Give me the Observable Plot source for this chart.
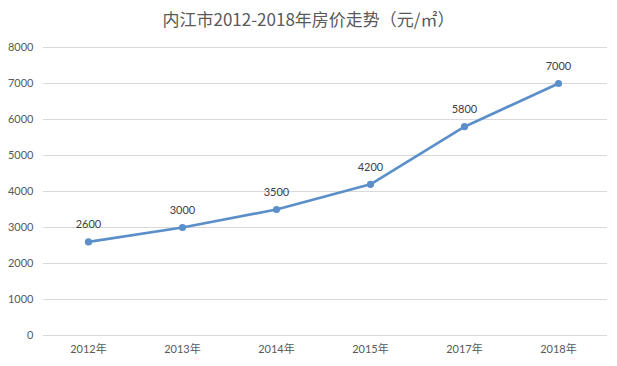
<!DOCTYPE html>
<html><head><meta charset="utf-8">
<script src="https://cdn.jsdelivr.net/npm/d3@7"></script>
<script src="https://cdn.jsdelivr.net/npm/@observablehq/plot@0.6"></script>
<style>
body{margin:0;background:#fff;}
#title{width:617px;height:35px;line-height:37px;text-align:center;font-family:"Noto Sans CJK SC",sans-serif;font-size:17px;color:#595959;}
</style>
</head><body>
<div id="title">内江市2012-2018年房价走势（元/㎡）</div>
<div id="chart"></div>
<script>
const years = ["2012年","2013年","2014年","2015年","2017年","2018年"];
const prices = [2600,3000,3500,4200,5800,7000];
const yTicks = [0,1000,2000,3000,4000,5000,6000,7000,8000];
const data = years.map((y,i)=>({year:y, price:prices[i]}));
const chart = Plot.plot({
  width:617, height:331,
  marginTop:12, marginBottom:31, marginLeft:43, marginRight:10,
  style:{fontFamily:"Lato, 'Noto Sans CJK SC', sans-serif", fontSize:"11px", color:"#595959", background:"#fff"},
  x:{type:"point", domain:years, padding:0.5, align:0.48, label:null, tickSize:0, tickPadding:10},
  y:{domain:[0,8000], ticks:yTicks, tickFormat:d=>String(d), label:null, tickSize:0, tickPadding:10},
  marks:[
    Plot.gridY(yTicks,{stroke:"#d9d9d9", strokeOpacity:1, strokeWidth:1}),
    Plot.line(data,{x:"year", y:"price", stroke:"#5b8fc9", strokeWidth:2.6}),
    Plot.dot(data,{x:"year", y:"price", fill:"#5b8fc9", r:3.6}),
    Plot.text(data,{x:"year", y:"price", text:d=>String(d.price), dy:-17, fill:"#404040", fontSize:11})
  ]
});
document.getElementById("chart").appendChild(chart);
</script>
</body></html>
